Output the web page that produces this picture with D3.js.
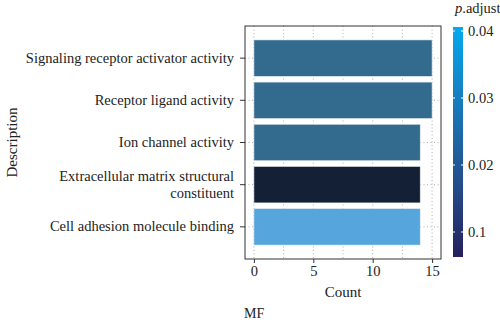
<!DOCTYPE html>
<html><head><meta charset="utf-8">
<script src="https://cdn.jsdelivr.net/npm/d3@7"></script>
<style>body{margin:0;background:#fff}svg{display:block}text{font-family:"Liberation Serif","Times New Roman",serif !important;fill:#222}</style>
</head><body>
<script>
const categories = ["Signaling receptor activator activity","Receptor ligand activity","Ion channel activity","Extracellular matrix structural constituent","Cell adhesion molecule binding"];
const counts = [15, 15, 14, 14, 14];
const pAdjust = [0.02, 0.02, 0.02, 0.005, 0.038];
const xTicks = [0, 5, 10, 15];
const legendTicks = [0.04, 0.03, 0.02, 0.01];
const legendTickLabels = ["0.04", "0.03", "0.02", "0.1"];

const W = 500, H = 323;
const FS = 14.5;
const svg = d3.select("body").append("svg").attr("width", W).attr("height", H);
const panel = {l: 245, r: 441, t: 26, b: 259};

const x = d3.scaleLinear().domain([-0.75, 15.75]).range([panel.l, panel.r]);
const y = d3.scaleBand().domain(categories).range([panel.t, panel.b]).paddingInner(0.135).paddingOuter(0.33);
const barFill = d3.scaleLinear().domain([0.005, 0.02, 0.038]).range(["#132036", "#336b8e", "#56a5dc"]);

// grid
const grid = svg.append("g").attr("stroke", "#999").attr("stroke-width", 0.8).attr("stroke-dasharray", "1,2.5");
d3.range(0, 16, 2.5).forEach(v => grid.append("line").attr("x1", x(v)).attr("x2", x(v)).attr("y1", panel.t).attr("y2", panel.b));
categories.forEach(c => grid.append("line").attr("x1", panel.l).attr("x2", panel.r).attr("y1", y(c) + y.bandwidth()/2).attr("y2", y(c) + y.bandwidth()/2));

// bars
svg.append("g").selectAll("rect").data(categories).join("rect")
  .attr("x", x(0)).attr("y", c => y(c))
  .attr("width", (c, i) => x(counts[i]) - x(0)).attr("height", y.bandwidth())
  .attr("fill", (c, i) => barFill(pAdjust[i]))
  .attr("stroke", "#e8eef3").attr("stroke-width", 0.6);

// panel border
svg.append("rect").attr("x", panel.l).attr("y", panel.t).attr("width", panel.r - panel.l).attr("height", panel.b - panel.t)
  .attr("fill", "none").attr("stroke", "#333").attr("stroke-width", 1);

// x axis
const xa = svg.append("g").attr("transform", `translate(0,${panel.b})`)
  .call(d3.axisBottom(x).tickValues(xTicks).tickSize(4).tickPadding(3));
xa.attr("font-family", null).attr("font-size", null);
xa.select(".domain").remove();
xa.selectAll("line").attr("stroke", "#333");
xa.selectAll("text").attr("font-size", FS).attr("fill", "#222");

// y axis
const ya = svg.append("g").attr("transform", `translate(${panel.l},0)`)
  .call(d3.axisLeft(y).tickSize(5).tickPadding(6));
ya.attr("font-family", null).attr("font-size", null);
ya.select(".domain").remove();
ya.selectAll("line").attr("stroke", "#333");
ya.selectAll("text").attr("font-size", FS).attr("fill", "#222")
  .each(function(d) {
    if (d === "Extracellular matrix structural constituent") {
      const t = d3.select(this); t.text("");
      t.append("tspan").attr("x", -11).attr("dy", "-0.25em").text("Extracellular matrix structural");
      t.append("tspan").attr("x", -11).attr("dy", "1.15em").text("constituent");
    }
  });

svg.append("text").attr("x", (panel.l + panel.r)/2).attr("y", 297).attr("text-anchor", "middle").attr("font-size", 15).text("Count");
svg.append("text").attr("transform", `translate(17,${(panel.t + panel.b)/2}) rotate(-90)`).attr("text-anchor", "middle").attr("font-size", 15).text("Description");
svg.append("text").attr("x", 244).attr("y", 318).attr("font-size", 14).text("MF");

// legend
const lg = {x: 453, w: 10, t: 27, b: 257};
const ly = d3.scaleLinear().domain([0.04, 0.01]).range([31, 232]);
const defs = svg.append("defs");
const grad = defs.append("linearGradient").attr("id", "lg").attr("x1", 0).attr("x2", 0).attr("y1", 0).attr("y2", 1);
grad.append("stop").attr("offset", "0%").attr("stop-color", "#05a9ee");
grad.append("stop").attr("offset", "35%").attr("stop-color", "#1878b8");
grad.append("stop").attr("offset", "70%").attr("stop-color", "#244b88");
grad.append("stop").attr("offset", "100%").attr("stop-color", "#25205c");
svg.append("rect").attr("x", lg.x).attr("y", lg.t).attr("width", lg.w).attr("height", lg.b - lg.t).attr("fill", "url(#lg)");
legendTicks.forEach((v, i) => {
  svg.append("line").attr("x1", lg.x).attr("x2", lg.x + 2).attr("y1", ly(v)).attr("y2", ly(v)).attr("stroke", "#fff");
  svg.append("line").attr("x1", lg.x + lg.w - 2).attr("x2", lg.x + lg.w).attr("y1", ly(v)).attr("y2", ly(v)).attr("stroke", "#fff");
  svg.append("text").attr("x", 468).attr("y", ly(v)).attr("dy", "0.35em").attr("font-size", FS).text(legendTickLabels[i]);
});
const lt = svg.append("text").attr("x", 455).attr("y", 13).attr("font-size", FS);
lt.append("tspan").attr("font-style", "italic").text("p");
lt.append("tspan").text(".adjust");
</script>
</body></html>
